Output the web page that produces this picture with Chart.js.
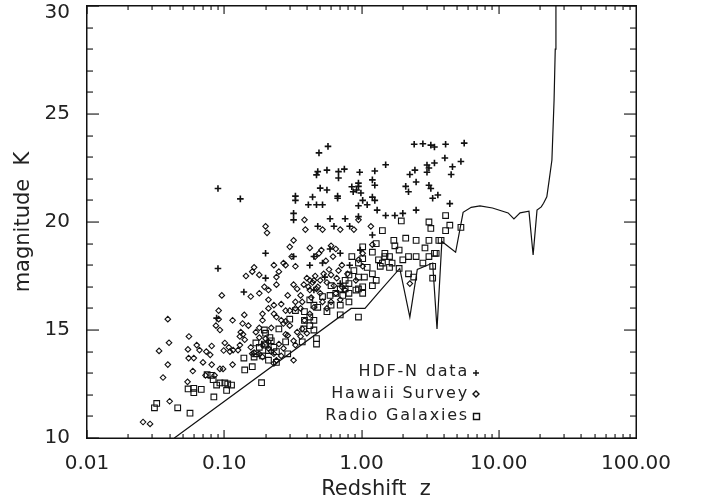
<!DOCTYPE html>
<html>
<head>
<meta charset="utf-8">
<script src="https://cdn.jsdelivr.net/npm/chart.js@4/dist/chart.umd.min.js"></script>
<style>
  html, body { margin: 0; padding: 0; background: #fff; }
</style>
</head>
<body>
<canvas id="grafico" width="702" height="504"></canvas>
<script>
// ticks of the axes
const valoresX = [0.01, 0.1, 1, 10, 100];
const etiquetasX = ['0.01', '0.10', '1.00', '10.00', '100.00'];
const valoresY = [10, 15, 20, 25, 30];

// legend names
const nombres = ['HDF-N data', 'Hawaii Survey', 'Radio Galaxies'];

// [redshift z, magnitude K]
const puntosHDF = [
  [0.49,23.2],[0.57,23.5],[0.48,22.33],[0.47,22.18],[0.56,22.4],[0.68,22.33],[0.68,22.04],[0.75,22.45],
  [0.97,22.3],[1.25,22.36],[1.5,22.65],[0.95,21.8],[0.95,21.65],[1.2,21.95],[1.25,21.7],[0.33,21.2],
  [0.33,21.0],[0.5,21.57],[0.56,21.48],[0.67,21.2],[0.67,21.1],[0.85,21.63],[0.87,21.4],[0.92,21.48],
  [0.99,21.34],[1.02,21.0],[1.2,21.15],[1.25,21.0],[0.44,21.16],[0.41,20.8],[0.47,20.8],[0.52,20.8],
  [0.95,20.75],[1.1,20.8],[1.3,20.55],[0.32,20.4],[0.32,20.1],[0.59,20.15],[0.76,20.15],[0.95,20.25],
  [1.5,20.3],[0.48,19.8],[0.63,19.8],[0.82,19.8],[1.2,19.4],[0.2,18.55],[0.09,17.85],[0.09,21.55],
  [0.131,21.07],[0.139,16.76],[0.2,17.4],[0.52,18.1],[0.7,18.55],[0.45,18.4],[0.59,18.75],[0.42,18.0],
  [0.82,18.0],[0.32,18.4],[0.98,18.7],[0.54,17.45],[0.7,17.15],[0.45,16.85],[0.088,15.55],
  [2.42,23.6],[2.8,23.62],[3.2,23.56],[3.4,23.47],[4.1,23.6],[5.6,23.65],[4.05,22.96],[5.3,22.8],
  [4.6,22.56],[4.5,22.2],[3.0,22.64],[3.4,22.73],[2.45,22.4],[2.25,22.2],[3.1,22.5],[3.0,22.3],
  [2.1,21.65],[2.2,21.4],[2.5,21.85],[3.1,21.7],[3.2,21.55],[3.6,21.25],[3.3,21.1],[4.4,20.85],
  [2.5,20.55],[2.0,20.4],[1.75,20.3]
];

const puntosHawaii = [
  [0.0256,10.74],[0.0288,10.65],[0.04,11.7],[0.0358,12.8],[0.0388,13.4],[0.0335,14.03],[0.0396,14.41],[0.0388,15.5],
  [0.054,12.6],[0.0553,14.7],[0.0544,14.1],[0.063,14.3],[0.066,14.07],[0.055,13.7],[0.06,13.7],[0.059,13.1],
  [0.074,14.0],[0.079,13.85],[0.081,14.26],[0.081,13.4],[0.093,13.2],[0.098,13.2],[0.091,15.9],[0.091,15.5],
  [0.096,16.6],[0.087,15.2],[0.093,15.0],[0.101,14.4],[0.11,14.0],[0.116,14.07],[0.13,14.3],[0.126,14.07],
  [0.136,15.3],[0.132,14.9],[0.144,17.5],[0.137,14.8],[0.141,14.55],[0.115,13.4],[0.073,12.9],[0.085,12.9],
  [0.16,17.7],[0.165,17.9],[0.18,17.55],[0.18,16.7],[0.196,17.0],[0.21,16.4],[0.21,16.0],[0.2,19.8],
  [0.205,19.5],[0.23,18.0],[0.24,17.45],[0.24,17.1],[0.25,17.7],[0.27,18.1],[0.3,18.85],[0.31,18.4],
  [0.33,17.95],[0.32,17.1],[0.29,16.6],[0.33,16.3],[0.384,20.1],[0.39,19.65],[0.42,18.8],[0.46,18.4],
  [0.49,18.55],[0.52,19.65],[0.51,18.7],[0.6,18.9],[0.65,18.75],[0.7,19.65],[0.88,19.65],[0.95,20.1],
  [1.17,19.8],[1.2,18.95],[0.17,14.9],[0.18,14.65],[0.156,14.2],[0.16,13.9],[0.21,14.15],[0.23,13.9],
  [0.25,14.35],[0.28,14.8],[0.32,13.6],[0.26,15.45],[0.23,15.75],[0.19,15.75],[0.23,16.15],[0.28,15.4],
  [0.3,15.9],[0.33,16.0],[0.384,15.45],[0.37,16.3],[0.42,16.85],[0.45,17.3],[0.48,17.0],[0.5,16.7],
  [0.52,16.3],[0.56,17.2],[0.63,17.05],[0.6,17.55],[0.68,17.75],[0.72,18.0],[0.79,17.6],[0.45,16.05],
  [0.42,15.75],[0.36,16.0],[0.19,15.45],[0.15,15.2],[0.13,14.7],[0.108,14.2],[0.099,14.05],[0.07,13.5],
  [0.23,13.45],[0.24,13.6],[0.165,13.95],[0.19,13.75],[0.21,14.45],[0.32,14.5],[0.34,14.9],[0.27,14.15],
  [0.29,14.75],[0.37,15.05],[0.4,14.85],[0.95,18.25],[1.02,17.95],[1.02,18.55],[0.91,17.3],[0.76,16.85],
  [0.7,16.4],[0.6,16.3],[0.56,16.0],[0.65,16.7],[2.25,17.15],[0.32,19.15],[0.28,18.0],[0.21,16.85],
  [0.156,16.55],[0.18,15.1],[0.14,15.7],[0.115,15.45],[0.40,17.4],[0.42,17.3],[0.44,17.2],[0.46,17.5],
  [0.41,17.0],[0.47,16.9],[0.38,17.1],[0.36,16.6],[0.43,16.5],[0.5,17.3],[0.53,17.6],[0.34,16.9],
  [0.26,16.2],[0.28,15.9],[0.24,15.6],[0.27,15.3],[0.3,15.2],[0.22,15.1],[0.2,14.6],[0.19,14.3],
  [0.22,14.0],[0.26,13.8],[0.18,13.9],[0.33,14.3],[0.36,14.7],[0.55,18.2],[0.62,18.4],[0.58,17.8],
  [0.66,17.4],[0.72,17.0]
];

const puntosRadio = [
  [0.0322,11.6],[0.031,11.4],[0.0458,11.4],[0.0563,11.15],[0.0545,12.27],[0.06,12.3],[0.068,12.25],[0.06,12.1],
  [0.084,11.9],[0.075,12.93],[0.08,12.9],[0.083,12.7],[0.088,12.45],[0.093,12.55],[0.101,12.55],[0.106,12.5],
  [0.104,12.2],[0.113,12.45],[0.139,13.7],[0.141,13.15],[0.16,13.3],[0.187,12.56],[0.165,13.75],[0.18,14.2],
  [0.196,14.35],[0.196,15.0],[0.21,14.05],[0.23,14.2],[0.24,14.0],[0.17,13.9],[0.24,13.5],[0.29,13.9],
  [0.28,14.45],[0.37,14.45],[0.47,14.6],[0.47,14.35],[0.38,15.05],[0.42,15.2],[0.45,15.0],[0.42,15.6],
  [0.45,15.45],[0.384,15.85],[0.56,15.85],[0.6,16.15],[0.7,16.15],[0.81,16.3],[0.7,15.7],[0.95,15.6],
  [0.59,16.6],[0.65,16.7],[0.73,16.6],[0.81,16.7],[0.76,16.9],[0.95,16.9],[1.02,17.0],[1.2,17.05],
  [0.95,17.45],[1.05,17.45],[1.2,17.6],[0.81,17.55],[0.88,17.75],[0.95,18.1],[1.1,17.9],[1.02,18.3],
  [1.2,18.6],[1.28,19.0],[1.42,19.6],[1.48,18.55],[1.6,18.4],[1.42,18.1],[1.67,18.1],[1.88,17.85],
  [2.0,18.25],[2.2,18.4],[2.1,19.25],[2.5,19.15],[2.5,18.4],[2.8,18.1],[2.2,17.6],[2.4,17.45],
  [3.1,18.4],[3.4,18.55],[3.1,19.15],[2.9,18.8],[3.3,17.95],[3.3,17.4],[3.66,19.15],[3.8,19.15],
  [3.5,18.55],[4.1,19.6],[4.4,19.85],[4.1,20.3],[3.1,20.0],[3.2,19.7],[5.3,19.75],[1.95,20.05],
  [1.72,19.15],[1.75,18.9],[1.88,18.7],[1.48,18.4],[1.37,17.95],[1.28,17.3],[0.81,17.15],[0.7,16.9],
  [0.52,16.55],[0.48,16.05],[0.45,16.15],[0.42,16.4],[0.33,15.9],[0.3,15.5],[0.25,15.05],[0.215,14.65],
  [0.2,14.85],[0.384,15.45],[0.6,17.05],[0.76,17.3],[0.91,16.85],[1.02,16.7],[0.85,18.4],[1.02,18.85],
  [1.33,18.25],[1.6,17.9],[0.19,13.8],[0.21,13.6],[0.2,14.3],[0.22,14.5],[0.17,14.4]
];

// model curve
const curvaModelo = [
  [0.0433,10],[0.84,16.0],[1.06,16.0],[1.36,16.8],[1.9,17.85],[2.25,15.6],[2.55,17.8],[3.3,18.1],
  [3.55,15.05],[3.85,19.1],[4.85,18.6],[5.5,20.45],[6.3,20.68],[7.3,20.75],[9.0,20.65],[11.7,20.42],
  [12.9,20.14],[14.3,20.42],[16.6,20.5],[17.8,18.47],[19.0,20.55],[20.4,20.7],[21.2,20.87],[22.4,21.17],
  [23.3,21.94],[24.4,22.87],[25.3,25.65],[25.8,28],[26.1,30]
];

const aXY = (lista) => lista.map(p => ({ x: p[0], y: p[1] }));
const FUENTE = 'DejaVu Sans';
const GRIS = '#222';

// frame with inward ticks on the four sides, titles and legend
const marcoIDL = {
  id: 'marcoIDL',
  afterDraw(chart) {
    const ctx = chart.ctx;
    const a = chart.chartArea;
    const ejeX = chart.scales.x;
    const ejeY = chart.scales.y;
    const izq = Math.round(a.left), der = Math.round(a.right);
    const arr = Math.round(a.top), abj = Math.round(a.bottom);

    ctx.save();
    ctx.fillStyle = '#111';
    // borders
    ctx.fillRect(izq - 1, arr - 1, der - izq + 2, 1.5);
    ctx.fillRect(izq - 1, abj - 0.5, der - izq + 2, 1.5);
    ctx.fillRect(izq - 1, arr - 1, 1.5, abj - arr + 2);
    ctx.fillRect(der - 0.5, arr - 1, 1.5, abj - arr + 2);
    // y ticks, every magnitude, long every 5
    for (let v = 10; v <= 30; v++) {
      const py = Math.round(ejeY.getPixelForValue(v));
      const largo = v % 5 === 0 ? 12 : 6;
      ctx.fillRect(izq, py - 0.5, largo, 1.1);
      ctx.fillRect(der - largo, py - 0.5, largo, 1.1);
    }
    // x ticks, log minor ticks
    for (let d = -2; d <= 1; d++) {
      for (let k = 1; k <= 9; k++) {
        const px = Math.round(ejeX.getPixelForValue(k * Math.pow(10, d)));
        const largo = k === 1 ? 8 : 4;
        ctx.fillRect(px - 0.5, abj - largo, 1.1, largo);
        ctx.fillRect(px - 0.5, arr, 1.1, largo);
      }
    }
    ctx.restore();

    ctx.save();
    ctx.fillStyle = GRIS;
    ctx.font = '21px "' + FUENTE + '"';
    ctx.textAlign = 'center';
    ctx.textBaseline = 'middle';
    ctx.fillText('Redshift  z', 376, 490);
    ctx.translate(24, 222);
    ctx.rotate(-Math.PI / 2);
    ctx.fillText('magnitude  K', 0, 0);
    ctx.restore();

    // legend inside the plot, text then symbol
    ctx.save();
    ctx.fillStyle = GRIS;
    ctx.strokeStyle = '#111';
    ctx.font = '16px "' + FUENTE + '"';
    ctx.letterSpacing = '1.8px';
    ctx.textAlign = 'right';
    ctx.textBaseline = 'middle';
    const filas = [372, 394, 416];
    nombres.forEach((n, i) => ctx.fillText(n, 469, filas[i]));
    ctx.lineWidth = 1.4;
    ctx.beginPath();
    ctx.moveTo(473, 373); ctx.lineTo(479, 373);
    ctx.moveTo(476, 370); ctx.lineTo(476, 376);
    ctx.moveTo(476, 391); ctx.lineTo(479, 394); ctx.lineTo(476, 397); ctx.lineTo(473, 394); ctx.closePath();
    ctx.rect(473.5, 413.5, 6, 6);
    ctx.stroke();
    ctx.restore();
  }
};

new Chart(document.getElementById('grafico'), {
  type: 'scatter',
  data: {
    datasets: [
      {
        label: nombres[0], data: aXY(puntosHDF), pointStyle: 'cross',
        pointRadius: 3.3, borderColor: '#111', borderWidth: 1.6, backgroundColor: 'transparent'
      },
      {
        label: nombres[1], data: aXY(puntosHawaii), pointStyle: 'rectRot',
        pointRadius: 2.8, borderColor: '#111', borderWidth: 1.1, backgroundColor: 'transparent'
      },
      {
        label: nombres[2], data: aXY(puntosRadio), pointStyle: 'rect',
        pointRadius: 4, borderColor: '#111', borderWidth: 1.1, backgroundColor: 'transparent'
      },
      {
        label: 'modelo', type: 'line', data: aXY(curvaModelo), showLine: true,
        pointRadius: 0, borderColor: '#111', borderWidth: 1.2, tension: 0, fill: false
      }
    ]
  },
  options: {
    responsive: false,
    animation: false,
    layout: { padding: { top: 6, right: 66, left: 0, bottom: 0 } },
    plugins: { legend: { display: false }, tooltip: { enabled: false } },
    scales: {
      x: {
        type: 'logarithmic', min: 0.01, max: 100,
        grid: { display: false, drawTicks: false, tickLength: 0 },
        border: { display: false },
        afterBuildTicks: (eje) => { eje.ticks = valoresX.map(v => ({ value: v })); },
        afterFit: (eje) => { eje.height = 66; eje.paddingLeft = 0; eje.paddingRight = 0; },
        ticks: {
          autoSkip: false, maxRotation: 0, padding: 14, color: GRIS,
          font: { family: FUENTE, size: 20 },
          callback: (v, i) => etiquetasX[i]
        }
      },
      y: {
        min: 10, max: 30,
        grid: { display: false, drawTicks: false, tickLength: 0 },
        border: { display: false },
        afterBuildTicks: (eje) => { eje.ticks = valoresY.map(v => ({ value: v })); },
        afterFit: (eje) => { eje.width = 87; eje.paddingTop = 0; eje.paddingBottom = 0; },
        ticks: {
          autoSkip: false, padding: 17, color: GRIS,
          // the top label sits a bit lower, as in the original
          font: (c) => ({ family: FUENTE, size: 20, lineHeight: c.tick && c.tick.value === 30 ? 0.7 : 1.2 }),
          callback: (v) => v === 30 ? ['', String(v)] : String(v)
        }
      }
    }
  },
  plugins: [marcoIDL]
});
</script>
</body>
</html>
